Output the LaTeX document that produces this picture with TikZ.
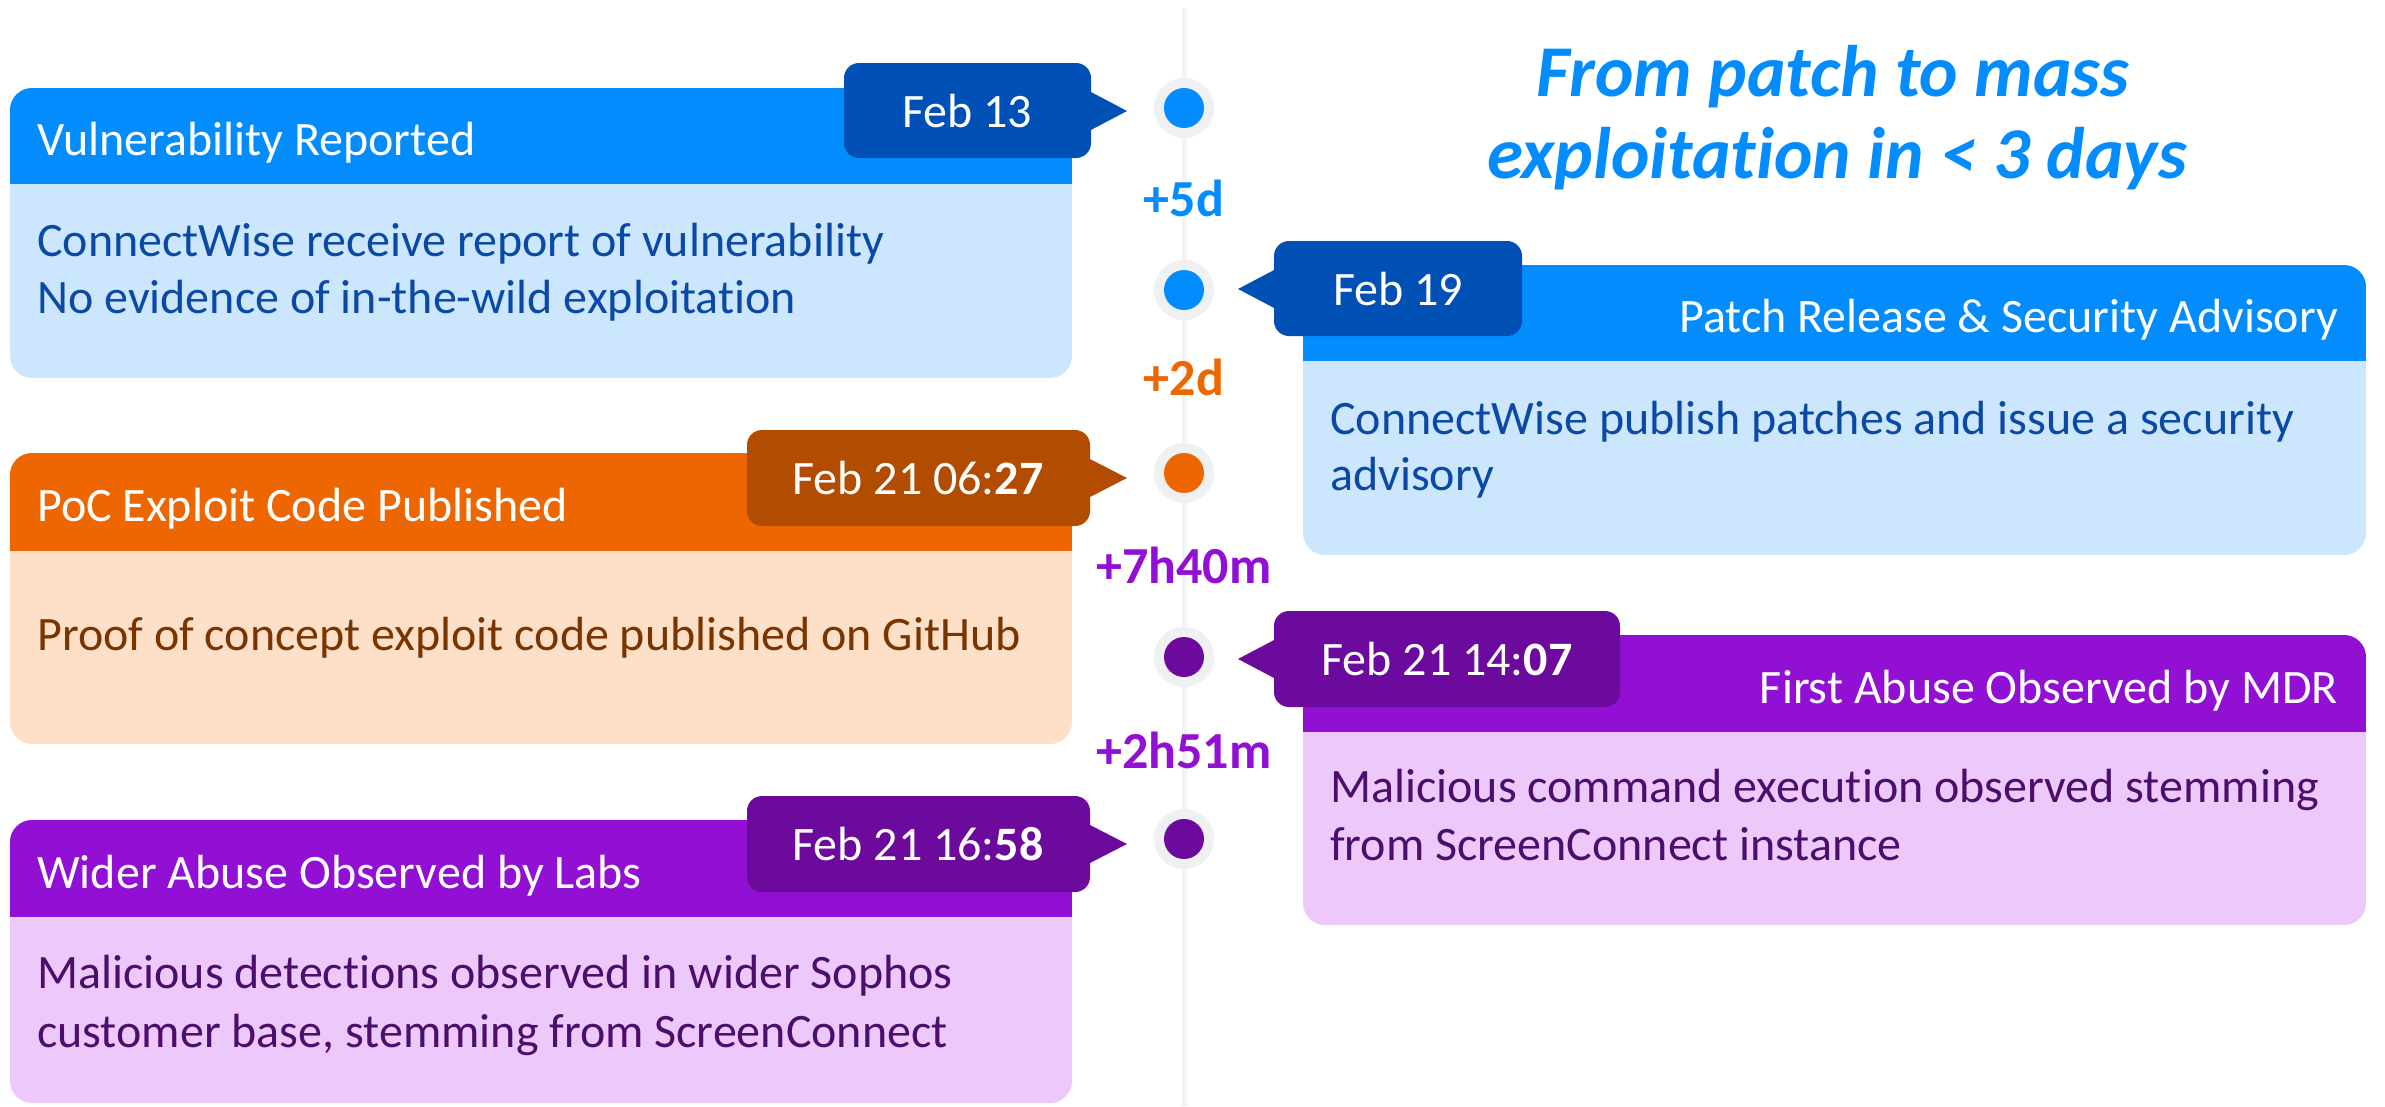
\documentclass[tikz,border=0pt]{standalone}
\usepackage{fontspec}
\setmainfont{Carlito}[Ligatures=NoCommon]
\definecolor{bhead}{HTML}{038CFD}
\definecolor{bbody}{HTML}{CCE7FD}
\definecolor{btag}{HTML}{0050B5}
\definecolor{btext}{HTML}{0A4AA6}
\definecolor{ohead}{HTML}{EE6600}
\definecolor{obody}{HTML}{FEE0C8}
\definecolor{otag}{HTML}{B24C00}
\definecolor{otext}{HTML}{7A3400}
\definecolor{phead}{HTML}{920FD4}
\definecolor{pbody}{HTML}{ECC8FB}
\definecolor{ptag}{HTML}{6B0A9C}
\definecolor{ptext}{HTML}{4C0E6C}
\definecolor{ringcol}{HTML}{EEF0F2}
\definecolor{tlinecol}{HTML}{F3F3F5}
\newcommand\tlcard[7]{%
  \begin{scope}
    \clip[rounded corners=22pt] (#1,#3) rectangle (#2,#5);
    \fill[#7] (#1,#3) rectangle (#2,#5);
    \fill[#6] (#1,#3) rectangle (#2,#4);
  \end{scope}}
% x1 x2 y1 y2 basex tipx cy color
\newcommand\tltag[8]{%
  \fill[#8, rounded corners=15pt] (#1,#3) rectangle (#2,#4);
  \fill[#8] (#5,#7-20) -- (#6,#7) -- (#5,#7+20) -- cycle;}
\begin{document}
\begin{tikzpicture}[x=1pt,y=-1pt,
  fnt/.style={font=\fontsize{48}{57}\selectfont, inner sep=0pt},
  headtxt/.style={fnt, text=white, anchor=base west},
  headtxtr/.style={fnt, text=white, anchor=base east},
  bodytxt/.style={fnt, anchor=base west},
  tagtxt/.style={fnt, text=white, anchor=base},
  gaptxt/.style={font=\fontsize{52}{60}\selectfont\bfseries, inner sep=0pt, anchor=base},
  titletxt/.style={font=\fontsize{73}{84}\selectfont\bfseries\itshape, text=bhead, inner sep=0pt, anchor=base},
  ringdot/.style={circle, fill=ringcol, minimum size=60pt, inner sep=0pt},
  innerdot/.style={circle, minimum size=40pt, inner sep=0pt}]
\useasboundingbox (0,0) rectangle (2385,1106);
\fill[white] (0,0) rectangle (2385,1106);

% timeline
\coordinate (ltop) at (1184,8);
\coordinate (lbot) at (1184,1106);
\draw[tlinecol, line width=5pt] (ltop) -- (lbot);

% title
\node[titletxt] (title1) at (1833,96) {From patch to mass};
\node[titletxt] (title2) at (1837,178) {exploitation in < 3 days};

% cards
\tlcard{10}{1072}{88}{184}{378}{bhead}{bbody}
\tlcard{1303}{2366}{265}{361}{555}{bhead}{bbody}
\tlcard{10}{1072}{453}{551}{744}{ohead}{obody}
\tlcard{1303}{2366}{635}{732}{925}{phead}{pbody}
\tlcard{10}{1072}{820}{917}{1103}{phead}{pbody}

% tags
\tltag{844}{1091}{63}{158}{1089}{1127}{111}{btag}
\tltag{1274}{1522}{241}{336}{1276}{1238}{289}{btag}
\tltag{747}{1090}{430}{526}{1088}{1127}{478}{otag}
\tltag{1274}{1620}{611}{707}{1276}{1238}{659}{ptag}
\tltag{747}{1090}{796}{892}{1088}{1127}{844}{ptag}

\node[tagtxt] (t1) at (967,127) {Feb 13};
\node[tagtxt] (t2) at (1398,305) {Feb 19};
\node[tagtxt] (t3) at (918,494) {Feb 21 06:\textbf{27}};
\node[tagtxt] (t4) at (1447,675) {Feb 21 14:\textbf{07}};
\node[tagtxt] (t5) at (918,860) {Feb 21 16:\textbf{58}};

% headers
\node[headtxt] (h1) at (37,155) {Vulnerability Reported};
\node[headtxtr] (h2) at (2338,332) {Patch Release \& Security Advisory};
\node[headtxt] (h3) at (37,521) {PoC Exploit Code Published};
\node[headtxtr] (h4) at (2338,703) {First Abuse Observed by MDR};
\node[headtxt] (h5) at (37,888) {Wider Abuse Observed by Labs};

% bodies
\node[bodytxt, text=btext] (b1a) at (37,256) {ConnectWise receive report of vulnerability};
\node[bodytxt, text=btext] (b1b) at (37,313) {No evidence of in-the-wild exploitation};
\node[bodytxt, text=btext] (b2a) at (1330,434) {ConnectWise publish patches and issue a security};
\node[bodytxt, text=btext] (b2b) at (1330,490) {advisory};
\node[bodytxt, text=otext] (b3a) at (37,650) {Proof of concept exploit code published on GitHub};
\node[bodytxt, text=ptext] (b4a) at (1330,802) {Malicious command execution observed stemming};
\node[bodytxt, text=ptext] (b4b) at (1330,860) {from ScreenConnect instance};
\node[bodytxt, text=ptext] (b5a) at (37,988) {Malicious detections observed in wider Sophos};
\node[bodytxt, text=ptext] (b5b) at (37,1047) {customer base, stemming from ScreenConnect};

% dots
\node[ringdot] (d1) at (1184,108) {};
\node[innerdot, fill=bhead] (d1i) at (d1) {};
\node[ringdot] (d2) at (1184,290) {};
\node[innerdot, fill=bhead] (d2i) at (d2) {};
\node[ringdot] (d3) at (1184,473) {};
\node[innerdot, fill=ohead] (d3i) at (d3) {};
\node[ringdot] (d4) at (1184,657) {};
\node[innerdot, fill=ptag] (d4i) at (d4) {};
\node[ringdot] (d5) at (1184,839) {};
\node[innerdot, fill=ptag] (d5i) at (d5) {};

% gaps
\node[gaptxt, text=bhead] (g1) at (1184,216) {+5d};
\node[gaptxt, text=ohead] (g2) at (1184,395) {+2d};
\node[gaptxt, text=phead] (g3) at (1184,583) {+7h40m};
\node[gaptxt, text=phead] (g4) at (1184,768) {+2h51m};
\end{tikzpicture}
\end{document}
